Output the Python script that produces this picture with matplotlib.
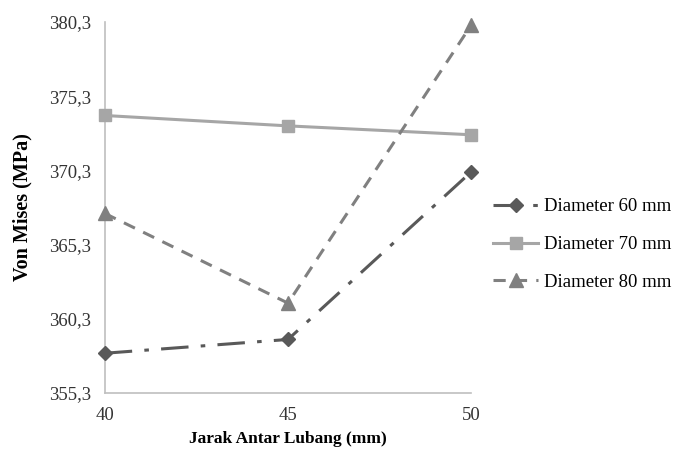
import matplotlib as mpl
import matplotlib.pyplot as plt
from matplotlib.ticker import FuncFormatter

mpl.rcParams.update(
    {
        "font.family": ["Liberation Serif", "DejaVu Serif"],
        "axes.spines.top": False,
        "axes.spines.right": False,
    }
)

jarak = [40, 45, 50]
diameter_60 = [357.97, 358.9, 370.2]
diameter_70 = [374.0, 373.3, 372.7]
diameter_80 = [367.4, 361.35, 380.1]
y_ticks = [355.3, 360.3, 365.3, 370.3, 375.3, 380.3]

fig = plt.figure(figsize=(6.8, 4.5), dpi=100)
ax = fig.add_axes([0.154, 0.127, 0.539, 0.824])

ax.plot(jarak, diameter_60, color="#595959", linewidth=2.2, marker="D", markersize=7,
        dashes=(9, 4, 1.5, 4), label="Diameter 60 mm", clip_on=False, zorder=3)
ax.plot(jarak, diameter_70, color="#a6a6a6", linewidth=2.2, marker="s", markersize=9,
        label="Diameter 70 mm", clip_on=False, zorder=3)
ax.plot(jarak, diameter_80, color="#808080", linewidth=2.2, marker="^", markersize=10,
        dashes=(4, 3), label="Diameter 80 mm", clip_on=False, zorder=3)

ax.set_xlim(40, 50)
ax.set_ylim(y_ticks[0], y_ticks[-1])
ax.set_xticks(jarak)
ax.set_yticks(y_ticks)
ax.yaxis.set_major_formatter(FuncFormatter(lambda v, _: f"{v:.1f}".replace(".", ",")))
ax.tick_params(length=0, labelsize=13.5, colors="#333333", pad=10)
for side in ("left", "bottom"):
    ax.spines[side].set_color("#bfbfbf")
    ax.spines[side].set_linewidth(1.2)

ax.set_xlabel("Jarak Antar Lubang (mm)", fontsize=12.5, fontweight="bold", labelpad=5)
ax.set_ylabel("Von Mises (MPa)", fontsize=14.5, fontweight="bold", labelpad=12)

ax.legend(loc="center left", bbox_to_anchor=(1.014, 0.40), frameon=False,
          fontsize=13.5, handlelength=2.4, handletextpad=0.3, labelspacing=1.1)

fig.savefig("out.png", dpi=100, facecolor="white")
